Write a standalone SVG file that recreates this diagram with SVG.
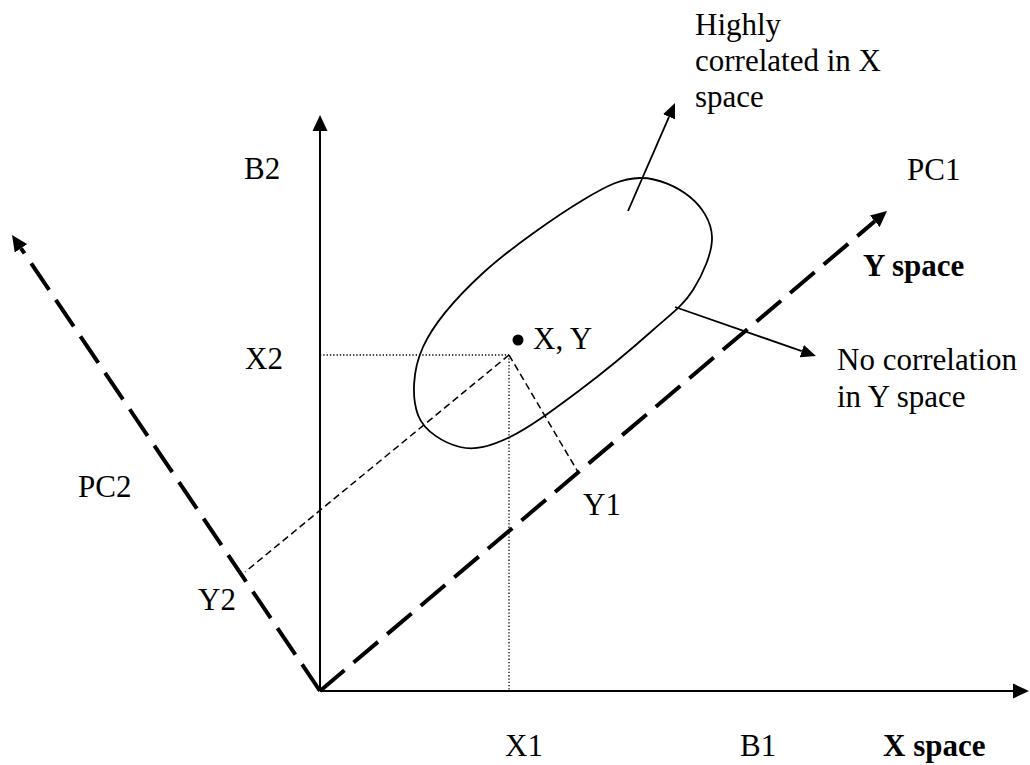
<svg xmlns="http://www.w3.org/2000/svg" width="1030" height="765" viewBox="0 0 1030 765">
<style>
text{font-family:"Liberation Serif","Times New Roman",serif;font-size:31px;fill:#000}
.b{font-weight:bold}
.axis{stroke:#000;stroke-width:2;fill:none}
.pc{stroke:#000;stroke-width:4;fill:none;stroke-dasharray:32 12}
.thin{stroke:#000;stroke-width:1.8;fill:none}
.dash{stroke:#000;stroke-width:1.5;fill:none;stroke-dasharray:7 4}
.dot{stroke:#000;stroke-width:1.3;fill:none;stroke-dasharray:1.3 2}
</style>
<defs>
<marker id="big" markerUnits="userSpaceOnUse" viewBox="0 0 16 16" markerWidth="16" markerHeight="16" refX="0" refY="8" orient="auto">
<path d="M0,0.5 L16,8 L0,15.5 z" fill="#000"/>
</marker>
<marker id="small" markerUnits="userSpaceOnUse" viewBox="0 0 15 14" markerWidth="15" markerHeight="14" refX="0" refY="7" orient="auto">
<path d="M0,0.5 L15,7 L0,13.5 z" fill="#000"/>
</marker>
</defs>

<g id="connectors">
<line id="axis-b1" class="axis" x1="320" y1="691" x2="1013" y2="691" marker-end="url(#big)"/>
<line id="axis-b2" class="axis" x1="320" y1="691" x2="320" y2="131" marker-end="url(#big)"/>
<line id="axis-pc1" class="pc" x1="320" y1="691" x2="874.8" y2="221.3" marker-end="url(#big)"/>
<line id="axis-pc2" class="pc" x1="320" y1="691" x2="20.96" y2="248.26" marker-end="url(#big)"/>
<line id="proj-x2" class="dot" x1="320" y1="355" x2="509" y2="355"/>
<line id="proj-x1" class="dot" x1="509" y1="355" x2="509" y2="691"/>
<line id="proj-y1" class="dash" x1="509" y1="355" x2="578" y2="472"/>
<line id="proj-y2" class="dash" x1="509" y1="355" x2="245" y2="572"/>
<line id="arrow-highly" class="thin" x1="628" y1="211" x2="669" y2="116.8" marker-end="url(#small)"/>
<line id="arrow-nocorr" class="thin" x1="675" y1="307" x2="801.8" y2="351.1" marker-end="url(#small)"/>
</g>

<g id="cluster">
<path class="thin" d="M640,178 C657.8,177.5 678,187.2 690,197 C702,206.8 711.5,221.5 712,237 C712.5,252.5 702.8,274.5 693,290 C683.2,305.5 671.8,313.3 653,330 C634.2,346.7 603.8,372.2 580,390 C556.2,407.8 530,427.5 510,437 C490,446.5 475.3,450.7 460,447 C444.7,443.3 424.2,431.7 418,415 C411.8,398.3 412.2,370.7 423,347 C433.8,323.3 456.3,297.5 483,273 C509.7,248.5 556.8,215.8 583,200 C609.2,184.2 622.2,178.5 640,178 Z"/>
</g>

<g id="point-xy">
<circle cx="518" cy="340" r="5.5" fill="#000"/>
<text x="533" y="349">X, Y</text>
</g>

<g id="labels">
<text id="lbl-b2" x="244" y="179">B2</text>
<text id="lbl-x2" x="245" y="369">X2</text>
<text id="lbl-pc2" x="78" y="497">PC2</text>
<text id="lbl-y2" x="198" y="610">Y2</text>
<text id="lbl-y1" x="583" y="515">Y1</text>
<text id="lbl-x1" x="505" y="756">X1</text>
<text id="lbl-b1" x="740" y="756">B1</text>
<text id="lbl-xspace" class="b" x="883" y="756">X space</text>
<text id="lbl-pc1" x="907" y="180">PC1</text>
<text id="lbl-yspace" class="b" x="863" y="276">Y space</text>
<g id="note-highly">
<text x="695" y="35">Highly</text>
<text x="695" y="71">correlated in X</text>
<text x="695" y="107">space</text>
</g>
<g id="note-nocorr">
<text x="837" y="370">No correlation</text>
<text x="837" y="407">in Y space</text>
</g>
</g>
</svg>
